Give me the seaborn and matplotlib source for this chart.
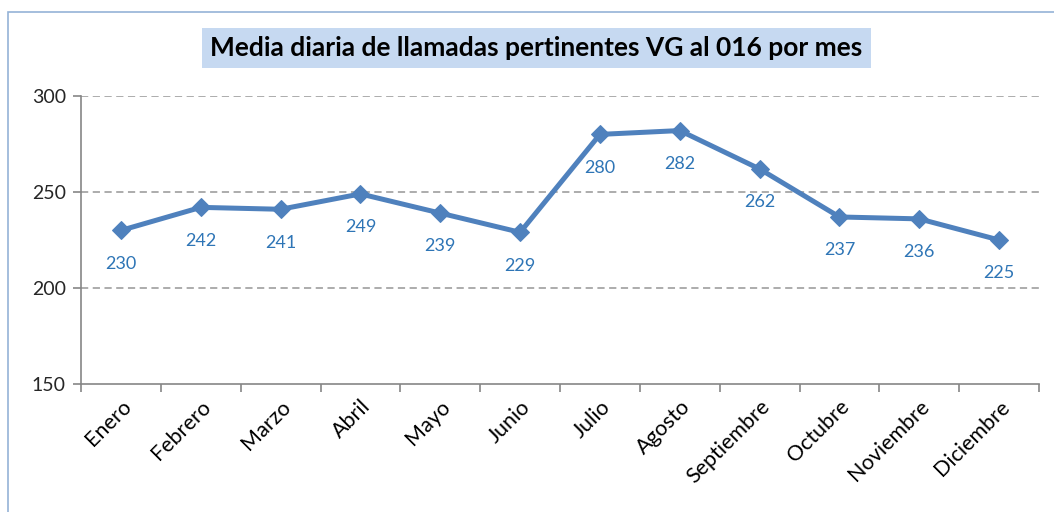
import matplotlib
matplotlib.use('Agg')
import matplotlib.pyplot as plt
import seaborn as sns
import pandas as pd
from matplotlib.patches import Rectangle
from matplotlib.ticker import FixedLocator

meses = ['Enero', 'Febrero', 'Marzo', 'Abril', 'Mayo', 'Junio', 'Julio',
         'Agosto', 'Septiembre', 'Octubre', 'Noviembre', 'Diciembre']
llamadas = [230, 242, 241, 249, 239, 229, 280, 282, 262, 237, 236, 225]
titulo = 'Media diaria de llamadas pertinentes VG al 016 por mes'

df = pd.DataFrame({'mes': meses, 'llamadas': llamadas})

sns.set_style('white')
plt.rcParams['font.family'] = ['Lato', 'DejaVu Sans']

fig = plt.figure(figsize=(10.54, 5.12), dpi=100)
ax = fig.add_axes([0.0769, 0.25, 0.9089, 0.5625])

# chart frame (light blue border, cut at right and bottom)
fig.patches.append(Rectangle((8 / 1054, -0.1), 1.1, 1 - 12 / 512 + 0.1,
                             transform=fig.transFigure, fill=False,
                             edgecolor='#95B3D7', linewidth=1.2))

x = list(range(len(meses)))
sns.lineplot(x=x, y=df['llamadas'], ax=ax, color='#4F81BD', linewidth=3.6,
             marker='D', markersize=9, markeredgecolor='#4F81BD')

for xi, v in zip(x, llamadas):
    ax.annotate(str(v), (xi, v), xytext=(0, -24), textcoords='offset points',
                ha='center', va='center', fontsize=13, color='#2E75B6')

ax.set_xlim(-0.5, len(meses) - 0.5)
ax.set_ylim(150, 300)
ax.set_yticks([150, 200, 250, 300])
ax.set_xticks(x)
ax.set_xticklabels(meses, rotation=45, ha='right', rotation_mode='anchor',
                   fontsize=15.5, color='#000000')
ax.xaxis.set_minor_locator(FixedLocator([i - 0.5 for i in range(len(meses) + 1)]))
ax.tick_params(axis='x', which='major', length=0, pad=9)
ax.tick_params(axis='x', which='minor', length=6, color='#868686', width=1.2,
               direction='out', bottom=True)
ax.tick_params(axis='y', length=6, color='#868686', width=1.2, direction='out',
               left=True, labelsize=14, pad=5)
for y in [200, 250, 300]:
    ax.axhline(y, color='#A6A6A6', linestyle=(0, (4, 2.5)), linewidth=1.3, zorder=0)

for s in ['top', 'right']:
    ax.spines[s].set_visible(False)
for s in ['left', 'bottom']:
    ax.spines[s].set_color('#868686')
    ax.spines[s].set_linewidth(1.2)
ax.set_xlabel('')
ax.set_ylabel('')

fig.text(0.509, 0.906, titulo, ha='center', va='center', fontsize=19,
         fontweight='bold', color='#000000',
         bbox=dict(boxstyle='square,pad=0.3', facecolor='#C6D9F1', edgecolor='none'))

fig.savefig('out.png', dpi=100)
